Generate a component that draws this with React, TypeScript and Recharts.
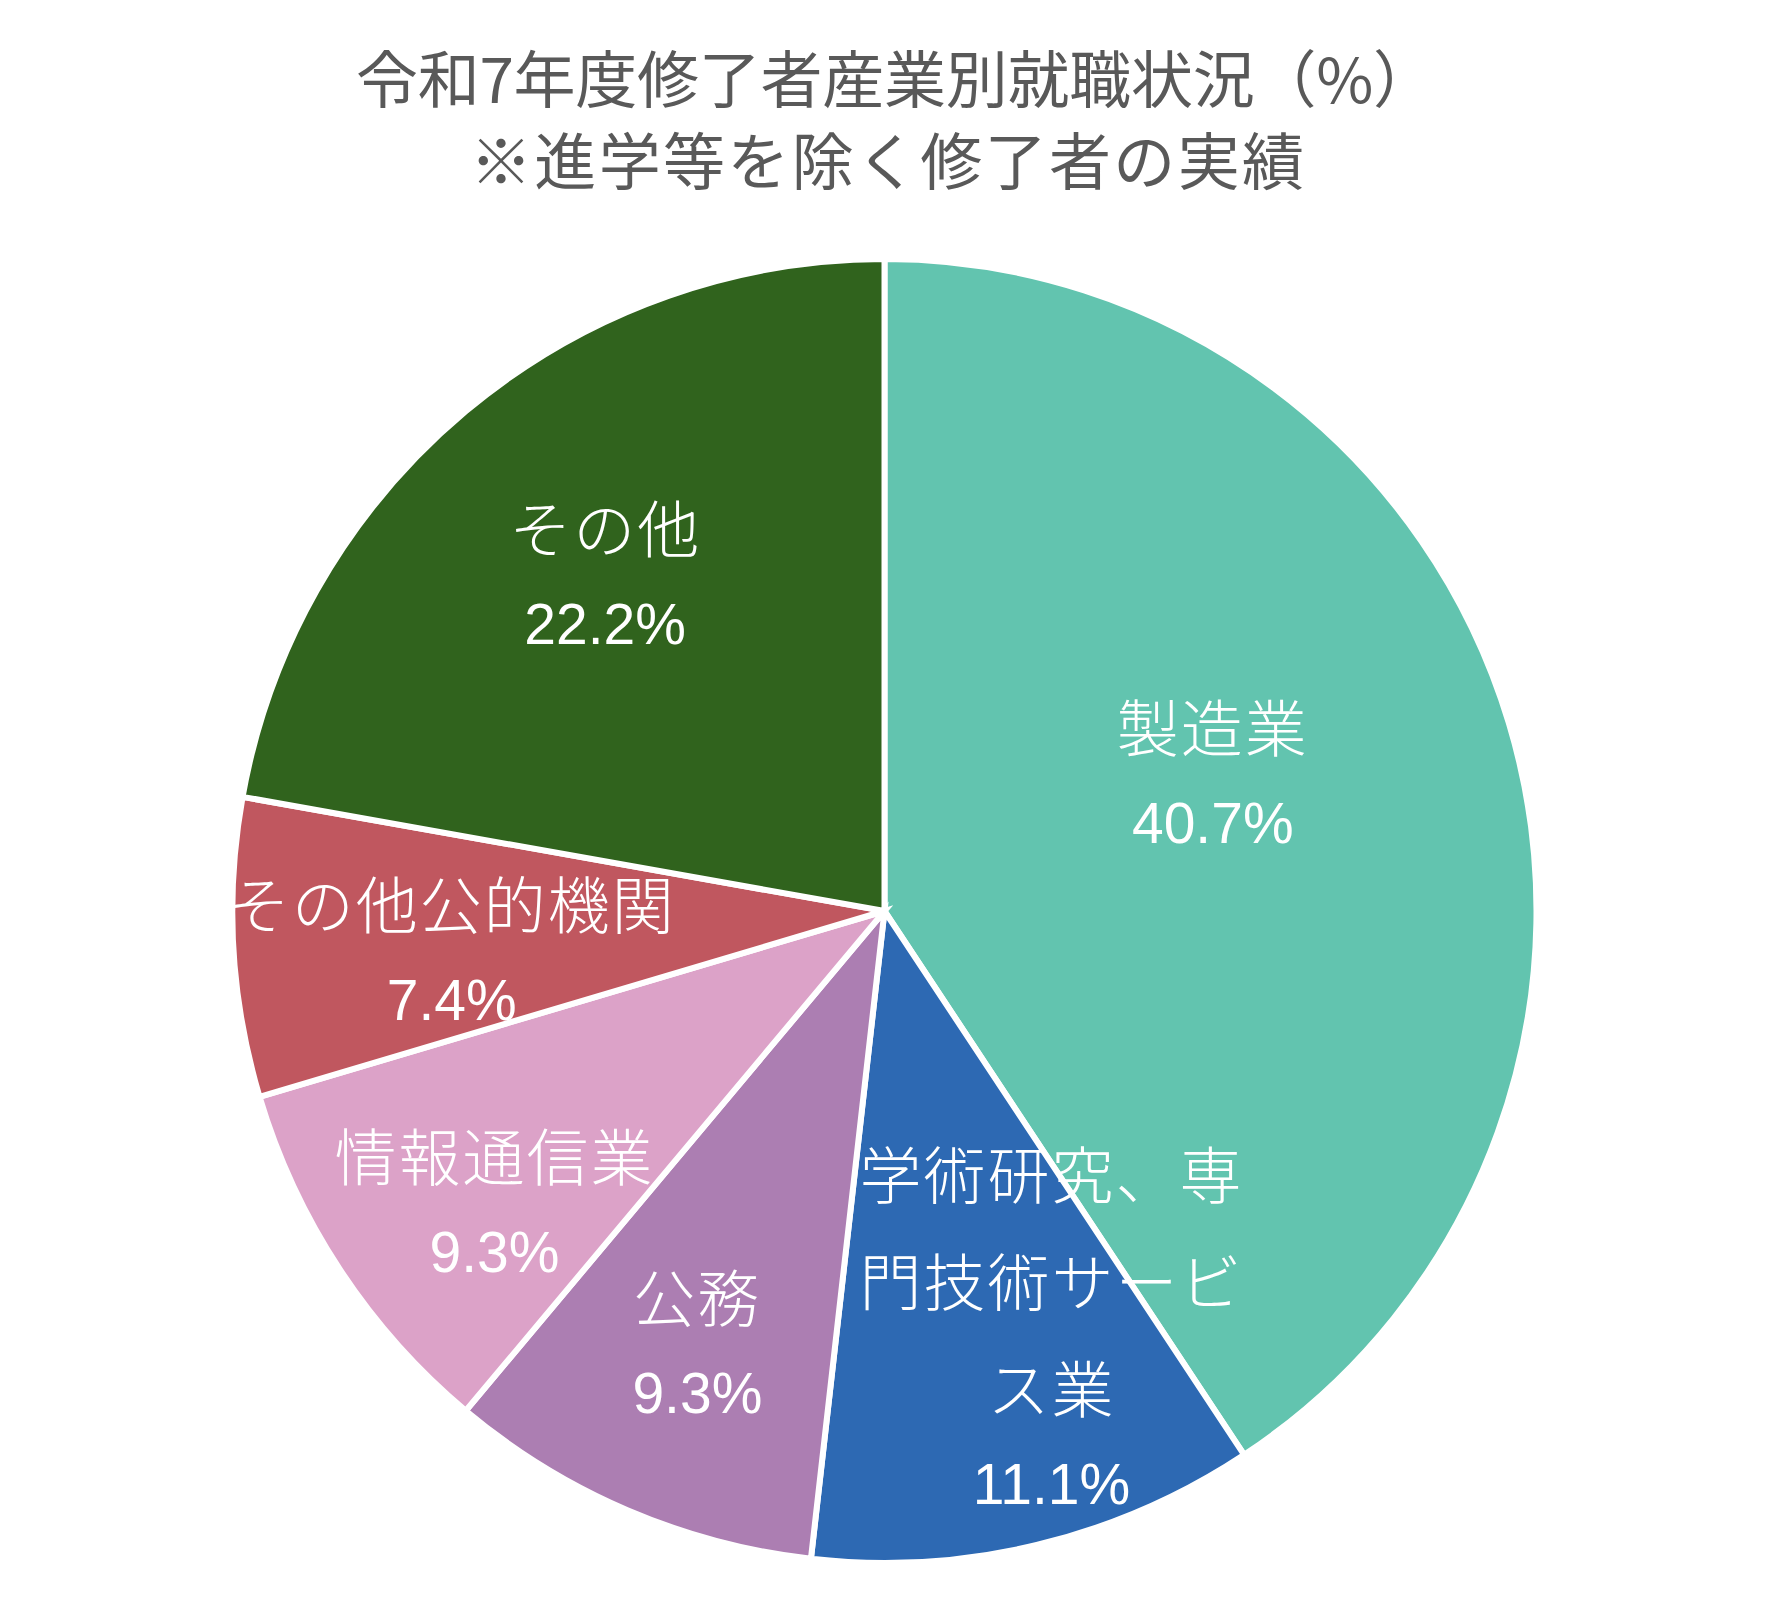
import { PieChart, Pie, Cell } from 'recharts';

const CATEGORIES = [
  '製造業',
  '学術研究、専門技術サービス業',
  '公務',
  '情報通信業',
  'その他公的機関',
  'その他',
];
const SHARES = [40.7, 11.1, 9.3, 9.3, 7.4, 22.2];
const COLORS = ['#62C4AF', '#2D69B3', '#AC7EB2', '#DCA2C8', '#C0575F', '#30631D'];
const TITLE_LINES = ['令和7年度修了者産業別就職状況（%）', '※進学等を除く修了者の実績'];

// label placement: radius fraction + angle nudge (deg, clockwise)
const LABEL_POS = [
  { rf: 0.544, da: -5.5 },
  { rf: 0.693, da: -8.2 },
  { rf: 0.728, da: 0 },
  { rf: 0.75, da: -3.8 },
  { rf: 0.667, da: -2.4 },
  { rf: 0.667, da: 0 },
];

const W = 1770;
const H = 1615;
const NAME_FONT = '"Noto Sans CJK JP", "Noto Sans", sans-serif';
const NUM_FONT = '"Liberation Sans", Arial, sans-serif';

const data = CATEGORIES.map((name, i) => ({ name, value: SHARES[i] }));

function wrap(name: string): string[] {
  if (name.length <= 7) return [name];
  const out: string[] = [];
  for (let i = 0; i < name.length; i += 6) out.push(name.slice(i, i + 6));
  return out;
}

function renderLabel(props: any) {
  const { cx, cy, midAngle, outerRadius, index } = props;
  const pos = LABEL_POS[index];
  const theta = ((90 - midAngle + pos.da) * Math.PI) / 180;
  const r = outerRadius * pos.rf;
  const x = cx + r * Math.sin(theta);
  const y = cy - r * Math.cos(theta);
  const lines = wrap(CATEGORIES[index]);
  const total = 107 * (lines.length - 1) + 96;
  const top = y - total / 2;
  return (
    <g key={`lbl-${index}`}>
      {lines.map((ln, j) => (
        <text
          key={j}
          x={x}
          y={top + j * 107 - 4}
          textAnchor="middle"
          dominantBaseline="central"
          fill="#ffffff"
          fontFamily={NAME_FONT}
          fontWeight={300}
          fontSize={62}
          letterSpacing={2}
        >
          {ln}
        </text>
      ))}
      <text
        x={x}
        y={top + total - 2}
        textAnchor="middle"
        dominantBaseline="central"
        fill="#ffffff"
        fontFamily={NUM_FONT}
        fontSize={57}
      >
        {SHARES[index].toFixed(1)}%
      </text>
    </g>
  );
}

export default function App() {
  return (
    <div style={{ position: 'relative', width: W, height: H, background: '#fff' }}>
      <style>{'body{margin:0}'}</style>
      <PieChart width={W} height={H} margin={{ top: 0, right: 0, bottom: 0, left: 0 }}>
        <Pie
          data={data}
          dataKey="value"
          nameKey="name"
          cx={884.5}
          cy={911}
          outerRadius={652}
          startAngle={90}
          endAngle={-270}
          stroke="#ffffff"
          strokeWidth={6}
          label={renderLabel}
          labelLine={false}
          isAnimationActive={false}
        >
          {data.map((d, i) => (
            <Cell key={d.name} fill={COLORS[i]} />
          ))}
        </Pie>
      </PieChart>
      <svg
        width={W}
        height={250}
        style={{ position: 'absolute', left: 0, top: 0, pointerEvents: 'none' }}
      >
        <text
          x={356}
          y={76}
          dominantBaseline="central"
          fill="#595959"
          fontFamily={NAME_FONT}
          fontWeight={400}
          fontSize={62}
          textLength={1079}
          lengthAdjust="spacing"
        >
          {TITLE_LINES[0]}
        </text>
        <text
          x={470}
          y={158}
          dominantBaseline="central"
          fill="#595959"
          fontFamily={NAME_FONT}
          fontWeight={400}
          fontSize={62}
          textLength={834}
          lengthAdjust="spacing"
        >
          {TITLE_LINES[1]}
        </text>
      </svg>
    </div>
  );
}
